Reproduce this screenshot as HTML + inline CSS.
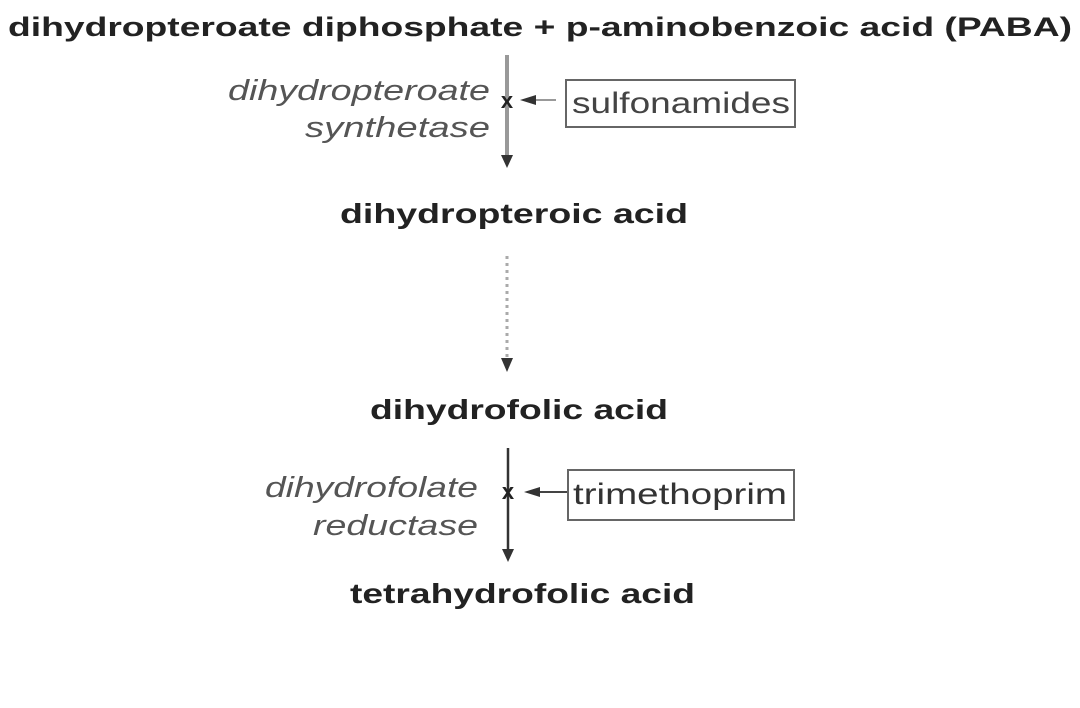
<!DOCTYPE html>
<html><head><style>html,body{margin:0;padding:0;background:#fff;}svg{display:block}</style></head>
<body>
<svg width="1080" height="708" xmlns="http://www.w3.org/2000/svg" font-family="Liberation Sans, sans-serif">
<text x="8" y="36" font-size="27" font-weight="bold" fill="#222" textLength="1064" lengthAdjust="spacingAndGlyphs">dihydropteroate diphosphate + p-aminobenzoic acid (PABA)</text>
<line x1="507" y1="55" x2="507" y2="158" stroke="#999" stroke-width="4"/>
<polygon points="501,155 513,155 507,168" fill="#333"/>
<text x="507" y="108" font-size="22" font-weight="bold" text-anchor="middle" fill="#222">x</text>
<line x1="528" y1="100" x2="556" y2="100" stroke="#999" stroke-width="2"/>
<polygon points="520,100 536,95 536,105" fill="#333"/>
<rect x="566" y="80" width="229" height="47" fill="#fff" stroke="#666" stroke-width="2"/>
<text x="572" y="113" font-size="30" fill="#444" textLength="218" lengthAdjust="spacingAndGlyphs">sulfonamides</text>
<text x="228" y="100" font-size="29" font-style="italic" fill="#555" textLength="262" lengthAdjust="spacingAndGlyphs">dihydropteroate</text>
<text x="305" y="137" font-size="29" font-style="italic" fill="#555" textLength="185" lengthAdjust="spacingAndGlyphs">synthetase</text>
<text x="340" y="223" font-size="28" font-weight="bold" fill="#222" textLength="348" lengthAdjust="spacingAndGlyphs">dihydropteroic acid</text>
<line x1="507" y1="256" x2="507" y2="360" stroke="#aaa" stroke-width="3" stroke-dasharray="3,4"/>
<polygon points="501,358 513,358 507,372" fill="#333"/>
<text x="370" y="419" font-size="28" font-weight="bold" fill="#222" textLength="298" lengthAdjust="spacingAndGlyphs">dihydrofolic acid</text>
<line x1="508" y1="448" x2="508" y2="552" stroke="#333" stroke-width="2.5"/>
<polygon points="502,549 514,549 508,562" fill="#333"/>
<text x="508" y="499" font-size="22" font-weight="bold" text-anchor="middle" fill="#222">x</text>
<line x1="532" y1="492" x2="568" y2="492" stroke="#444" stroke-width="2"/>
<polygon points="524,492 540,487 540,497" fill="#333"/>
<rect x="568" y="470" width="226" height="50" fill="#fff" stroke="#666" stroke-width="2"/>
<text x="573" y="504" font-size="30" fill="#333" textLength="214" lengthAdjust="spacingAndGlyphs">trimethoprim</text>
<text x="265" y="497" font-size="29" font-style="italic" fill="#555" textLength="213" lengthAdjust="spacingAndGlyphs">dihydrofolate</text>
<text x="313" y="535" font-size="29" font-style="italic" fill="#555" textLength="165" lengthAdjust="spacingAndGlyphs">reductase</text>
<text x="350" y="603" font-size="28" font-weight="bold" fill="#222" textLength="345" lengthAdjust="spacingAndGlyphs">tetrahydrofolic acid</text>
</svg>
</body></html>
